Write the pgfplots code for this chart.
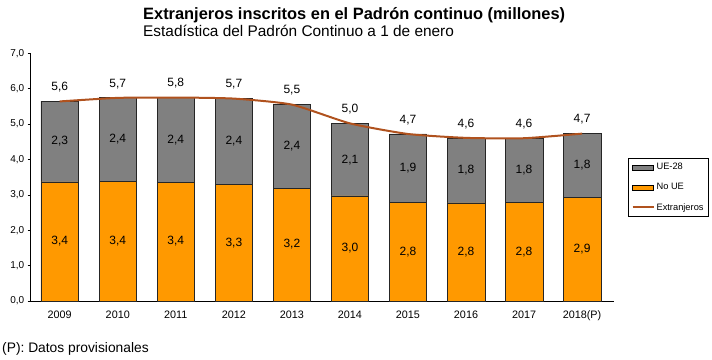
\documentclass[border=0pt]{standalone}
\usepackage{pgfplots}
\pgfplotsset{compat=1.18}
\usepackage{pgfplotstable}
\usepackage{fontspec}
\setmainfont{Liberation Sans}
\definecolor{ueg}{RGB}{128,128,128}
\definecolor{noue}{RGB}{255,153,0}
\definecolor{lin}{RGB}{176,82,30}

\pgfplotstableread{
x noue ue tot lnoue lue ltot
0 3.37 2.28 5.64 3,4 2,3 5,6
1 3.39 2.36 5.74 3,4 2,4 5,7
2 3.36 2.39 5.75 3,4 2,4 5,8
3 3.30 2.42 5.72 3,3 2,4 5,7
4 3.19 2.36 5.55 3,2 2,4 5,5
5 2.97 2.05 5.02 3,0 2,1 5,0
6 2.78 1.94 4.72 2,8 1,9 4,7
7 2.77 1.84 4.61 2,8 1,8 4,6
8 2.79 1.81 4.60 2,8 1,8 4,6
9 2.93 1.80 4.73 2,9 1,8 4,7
}\data

\begin{document}
\begin{tikzpicture}
\path[use as bounding box] (0pt,0pt) rectangle (712pt,359pt);
\pgfplotsset{
  base/.style={
    at={(30.7pt,58pt)}, anchor=south west,
    scale only axis, width=583.3pt, height=247.7pt,
    xmin=-0.5, xmax=9.55, ymin=0, ymax=7,
  }
}
\begin{axis}[base,
  ybar stacked, bar width=37.5pt,
  axis lines*=left,
  axis line style={black, line width=0.7pt},
  xtick={0,...,9},
  xticklabels={2009,2010,2011,2012,2013,2014,2015,2016,2017,2018(P)},
  x tick style={draw=none},
  ytick={0,1,...,7},
  y tick style={black, line width=0.6pt},
  tick align=outside, major tick length=3pt,
  yticklabel style={font=\fontsize{10}{12}\selectfont, /pgf/number format/.cd, fixed, fixed zerofill, precision=1, use comma, assume math mode=true},
  xticklabel style={font=\fontsize{10.8}{13}\selectfont, yshift=-3pt},
  legend style={at={(1.0245,0.5765)}, anchor=north west, draw=black, line width=0.5pt,
    font=\fontsize{9.3}{11}\selectfont, row sep=8pt, inner sep=3pt, cells={anchor=west},
    /tikz/every even column/.append style={column sep=1pt}},
  legend image post style={},
]
\addplot[fill=noue, draw=black!85, line width=0.5pt, forget plot] table[x=x, y=noue] \data;
\addplot[fill=ueg, draw=black!85, line width=0.5pt, forget plot] table[x=x, y=ue] \data;
\addlegendimage{legend image code/.code={\draw[fill=ueg, draw=black, line width=0.5pt] (0pt,-2.5pt) rectangle (21pt,2.5pt);}}
\addlegendentry{UE-28}
\addlegendimage{legend image code/.code={\draw[fill=noue, draw=black, line width=0.5pt] (0pt,-2.5pt) rectangle (21pt,2.5pt);}}
\addlegendentry{No UE}
\addlegendimage{legend image code/.code={\draw[lin, line width=2pt] (0pt,0pt) -- (21pt,0pt);}}
\addlegendentry{Extranjeros}
\end{axis}
\begin{axis}[base, hide axis]
\addplot[lin, line width=2pt, smooth, tension=0.35, mark=none] table[x=x, y=tot] \data;
\addplot[draw=none, mark=none, nodes near coords, point meta=explicit symbolic,
  every node near coord/.style={anchor=center, black, font=\fontsize{12}{14}\selectfont}]
  table[x=x, y expr=\thisrow{noue}/2, meta=lnoue] \data;
\addplot[draw=none, mark=none, nodes near coords, point meta=explicit symbolic,
  every node near coord/.style={anchor=center, black, font=\fontsize{12}{14}\selectfont}]
  table[x=x, y expr=\thisrow{noue}+\thisrow{ue}/2, meta=lue] \data;
\addplot[draw=none, mark=none, nodes near coords, point meta=explicit symbolic,
  every node near coord/.style={anchor=center, black, yshift=14pt, font=\fontsize{12}{14}\selectfont}]
  table[x=x, y=tot, meta=ltot] \data;
\end{axis}
\node[anchor=base west, inner sep=0pt, font=\bfseries\fontsize{16.4}{19}\selectfont] at (143pt,339pt) {Extranjeros inscritos en el Padrón continuo (millones)};
\node[anchor=base west, inner sep=0pt, font=\fontsize{15.4}{18}\selectfont] at (143pt,322pt) {Estadística del Padrón Continuo a 1 de enero};
\node[anchor=base west, inner sep=0pt, font=\fontsize{13.8}{16}\selectfont] at (2pt,7pt) {(P): Datos provisionales};
\end{tikzpicture}
\end{document}
